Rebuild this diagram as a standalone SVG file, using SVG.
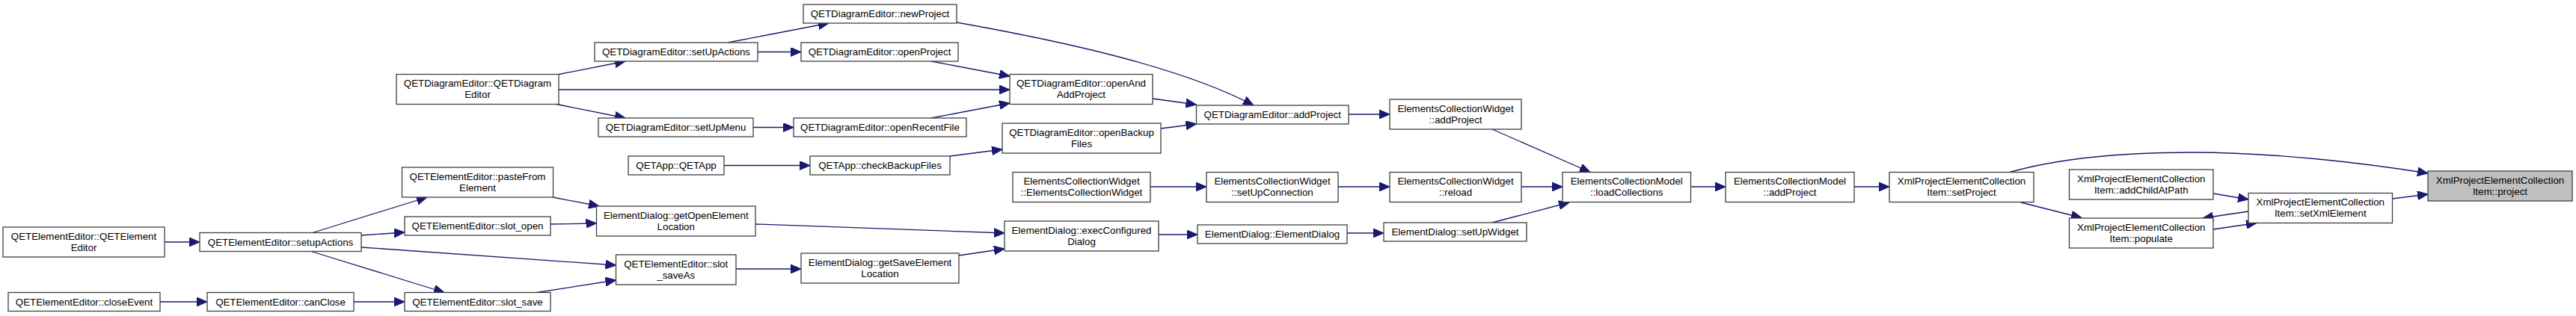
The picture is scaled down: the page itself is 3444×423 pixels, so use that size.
<svg xmlns="http://www.w3.org/2000/svg" width="3444" height="423" viewBox="0 0 3444 423">
<style>
.n rect{fill:#fff;stroke:#404040;stroke-width:1.3}
.n.t rect{fill:#bfbfbf}
.n text{font-family:"Liberation Sans",Arial,sans-serif;font-size:13.3px;fill:#000;text-anchor:middle}
.e path{fill:none;stroke:#191970;stroke-width:1.3}
</style>
<defs>
<marker id="ah" markerUnits="userSpaceOnUse" markerWidth="14" markerHeight="12" viewBox="0 0 13 11" refX="13" refY="5.5" orient="auto">
<path d="M0,0 L13,5.5 L0,11 z" fill="#191970" stroke="#191970"/>
</marker>
</defs>
<rect width="3444" height="423" fill="#fff"/>
<g id="edges" class="e" marker-end="url(#ah)">
<path d="M220,324 L267,324" marker-end="url(#ah)"/>
<path d="M418,311.5 L571,264" marker-end="url(#ah)"/>
<path d="M483,315 L541,311" marker-end="url(#ah)"/>
<path d="M483,331 L823.5,355" marker-end="url(#ah)"/>
<path d="M416,336.5 L594,391.5" marker-end="url(#ah)"/>
<path d="M214,404 L277,404" marker-end="url(#ah)"/>
<path d="M473,404 L541,404" marker-end="url(#ah)"/>
<path d="M718,391.5 L823.5,375" marker-end="url(#ah)"/>
<path d="M736,300 L797.5,299" marker-end="url(#ah)"/>
<path d="M739,264 L801,276" marker-end="url(#ah)"/>
<path d="M1010,300 L1343,312" marker-end="url(#ah)"/>
<path d="M984,360 L1071,360" marker-end="url(#ah)"/>
<path d="M1282,342 L1343,333" marker-end="url(#ah)"/>
<path d="M1549,314 L1601,314" marker-end="url(#ah)"/>
<path d="M1801,312 L1850,312" marker-end="url(#ah)"/>
<path d="M1995,298 L2098,271" marker-end="url(#ah)"/>
<path d="M1538,250 L1613,250" marker-end="url(#ah)"/>
<path d="M1789,250 L1858,250" marker-end="url(#ah)"/>
<path d="M2034,250 L2089,250" marker-end="url(#ah)"/>
<path d="M1995,173 L2126,230.5" marker-end="url(#ah)"/>
<path d="M1803,153 L1858,153" marker-end="url(#ah)"/>
<path d="M2260.5,250 L2307,250" marker-end="url(#ah)"/>
<path d="M2479,250 L2526,250" marker-end="url(#ah)"/>
<path d="M2687,230.5 C2760,210 2850,204 2930,204 C3040,204 3160,218 3246,232" marker-end="url(#ah)"/>
<path d="M2702,271 L2783,291.5" marker-end="url(#ah)"/>
<path d="M2959,259 L3006,267" marker-end="url(#ah)"/>
<path d="M3006,283 L2945,292" marker-end="url(#ah)"/>
<path d="M2959,307 L3017,298.5" marker-end="url(#ah)"/>
<path d="M3198.5,266 L3246,260" marker-end="url(#ah)"/>
<path d="M747,99.5 L836,82" marker-end="url(#ah)"/>
<path d="M747,120 L1350,120" marker-end="url(#ah)"/>
<path d="M744,139.5 L836,158" marker-end="url(#ah)"/>
<path d="M973,57 L1108,31" marker-end="url(#ah)"/>
<path d="M1013,69.5 L1071,69.5" marker-end="url(#ah)"/>
<path d="M1007,170.5 L1061,170.5" marker-end="url(#ah)"/>
<path d="M1245,82 L1350,102" marker-end="url(#ah)"/>
<path d="M1245,158 L1350,138" marker-end="url(#ah)"/>
<path d="M1279,30 C1420,55 1580,90 1676,141" marker-end="url(#ah)"/>
<path d="M1541,132 L1599.5,140" marker-end="url(#ah)"/>
<path d="M1552,172 L1599.5,166" marker-end="url(#ah)"/>
<path d="M968,221.5 L1083,221.5" marker-end="url(#ah)"/>
<path d="M1270,209 L1340,200" marker-end="url(#ah)"/>
</g>
<g id="n_qeteditor_ctor" class="n"><rect x="4" y="304" width="216" height="40"/><text x="112" y="320.5">QETElementEditor::QETElement</text><text x="112" y="335.5">Editor</text></g>
<g id="n_setupActions" class="n"><rect x="267" y="311.5" width="216" height="25"/><text x="375" y="328.5">QETElementEditor::setupActions</text></g>
<g id="n_closeEvent" class="n"><rect x="11" y="391.5" width="203" height="25"/><text x="112.5" y="408.5">QETElementEditor::closeEvent</text></g>
<g id="n_canClose" class="n"><rect x="277" y="391.5" width="196" height="25"/><text x="375" y="408.5">QETElementEditor::canClose</text></g>
<g id="n_qetdiag_ctor" class="n"><rect x="530" y="99.5" width="217" height="40"/><text x="638.5" y="116">QETDiagramEditor::QETDiagram</text><text x="638.5" y="131">Editor</text></g>
<g id="n_pasteFrom" class="n"><rect x="537.5" y="224" width="202" height="40"/><text x="638.5" y="240.5">QETElementEditor::pasteFrom</text><text x="638.5" y="255.5">Element</text></g>
<g id="n_slot_open" class="n"><rect x="541" y="290" width="195" height="25"/><text x="638.5" y="307">QETElementEditor::slot_open</text></g>
<g id="n_slot_save" class="n"><rect x="541" y="391.5" width="195" height="25"/><text x="638.5" y="408.5">QETElementEditor::slot_save</text></g>
<g id="n_d_setUpActions" class="n"><rect x="795" y="57" width="218" height="25"/><text x="904" y="74">QETDiagramEditor::setUpActions</text></g>
<g id="n_setUpMenu" class="n"><rect x="800" y="158" width="207" height="25"/><text x="903.5" y="175">QETDiagramEditor::setUpMenu</text></g>
<g id="n_qetapp" class="n"><rect x="840" y="209" width="128" height="25"/><text x="904" y="226">QETApp::QETApp</text></g>
<g id="n_getOpen" class="n"><rect x="797.5" y="276" width="212.5" height="40"/><text x="903.75" y="292.5">ElementDialog::getOpenElement</text><text x="903.75" y="307.5">Location</text></g>
<g id="n_slot_saveAs" class="n"><rect x="823.5" y="341" width="160.5" height="40"/><text x="903.75" y="357.5">QETElementEditor::slot</text><text x="903.75" y="372.5">_saveAs</text></g>
<g id="n_newProject" class="n"><rect x="1074" y="6" width="205" height="25"/><text x="1176.5" y="23">QETDiagramEditor::newProject</text></g>
<g id="n_openProject" class="n"><rect x="1071" y="57" width="210" height="25"/><text x="1176" y="74">QETDiagramEditor::openProject</text></g>
<g id="n_openRecent" class="n"><rect x="1061" y="158" width="231" height="25"/><text x="1176.5" y="175">QETDiagramEditor::openRecentFile</text></g>
<g id="n_checkBackup" class="n"><rect x="1083" y="209" width="187" height="25"/><text x="1176.5" y="226">QETApp::checkBackupFiles</text></g>
<g id="n_getSave" class="n"><rect x="1071" y="339" width="211" height="40"/><text x="1176.5" y="355.5">ElementDialog::getSaveElement</text><text x="1176.5" y="370.5">Location</text></g>
<g id="n_openAndAdd" class="n"><rect x="1350" y="99.5" width="191" height="40"/><text x="1445.5" y="116">QETDiagramEditor::openAnd</text><text x="1445.5" y="131">AddProject</text></g>
<g id="n_openBackup" class="n"><rect x="1340" y="165" width="212" height="40"/><text x="1446" y="181.5">QETDiagramEditor::openBackup</text><text x="1446" y="196.5">Files</text></g>
<g id="n_ecw_ctor" class="n"><rect x="1354" y="230.5" width="184" height="40"/><text x="1446" y="247">ElementsCollectionWidget</text><text x="1446" y="262">::ElementsCollectionWidget</text></g>
<g id="n_execConf" class="n"><rect x="1343" y="296" width="206" height="40"/><text x="1446" y="312.5">ElementDialog::execConfigured</text><text x="1446" y="327.5">Dialog</text></g>
<g id="n_d_addProject" class="n"><rect x="1599.5" y="141" width="203.5" height="25"/><text x="1701.25" y="158">QETDiagramEditor::addProject</text></g>
<g id="n_setUpConn" class="n"><rect x="1613" y="230.5" width="176" height="40"/><text x="1701" y="247">ElementsCollectionWidget</text><text x="1701" y="262">::setUpConnection</text></g>
<g id="n_ed_ctor" class="n"><rect x="1601" y="301" width="200" height="25"/><text x="1701" y="318">ElementDialog::ElementDialog</text></g>
<g id="n_ecw_addProject" class="n"><rect x="1858" y="133" width="176" height="40"/><text x="1946" y="149.5">ElementsCollectionWidget</text><text x="1946" y="164.5">::addProject</text></g>
<g id="n_reload" class="n"><rect x="1858" y="230.5" width="176" height="40"/><text x="1946" y="247">ElementsCollectionWidget</text><text x="1946" y="262">::reload</text></g>
<g id="n_setUpWidget" class="n"><rect x="1850" y="298" width="191" height="25"/><text x="1945.5" y="315">ElementDialog::setUpWidget</text></g>
<g id="n_loadColl" class="n"><rect x="2089" y="230.5" width="171.5" height="40"/><text x="2174.75" y="247">ElementsCollectionModel</text><text x="2174.75" y="262">::loadCollections</text></g>
<g id="n_ecm_addProject" class="n"><rect x="2307" y="230.5" width="172" height="40"/><text x="2393" y="247">ElementsCollectionModel</text><text x="2393" y="262">::addProject</text></g>
<g id="n_setProject" class="n"><rect x="2526" y="230.5" width="193" height="40"/><text x="2622.5" y="247">XmlProjectElementCollection</text><text x="2622.5" y="262">Item::setProject</text></g>
<g id="n_addChild" class="n"><rect x="2766.5" y="227" width="192.5" height="40"/><text x="2862.75" y="243.5">XmlProjectElementCollection</text><text x="2862.75" y="258.5">Item::addChildAtPath</text></g>
<g id="n_populate" class="n"><rect x="2766.5" y="292" width="192.5" height="40"/><text x="2862.75" y="308.5">XmlProjectElementCollection</text><text x="2862.75" y="323.5">Item::populate</text></g>
<g id="n_setXml" class="n"><rect x="3006" y="258.5" width="192.5" height="40"/><text x="3102.25" y="275">XmlProjectElementCollection</text><text x="3102.25" y="290">Item::setXmlElement</text></g>
<g id="n_project" class="n t"><rect x="3246" y="229" width="193" height="40"/><text x="3342.5" y="245.5">XmlProjectElementCollection</text><text x="3342.5" y="260.5">Item::project</text></g>
</svg>
